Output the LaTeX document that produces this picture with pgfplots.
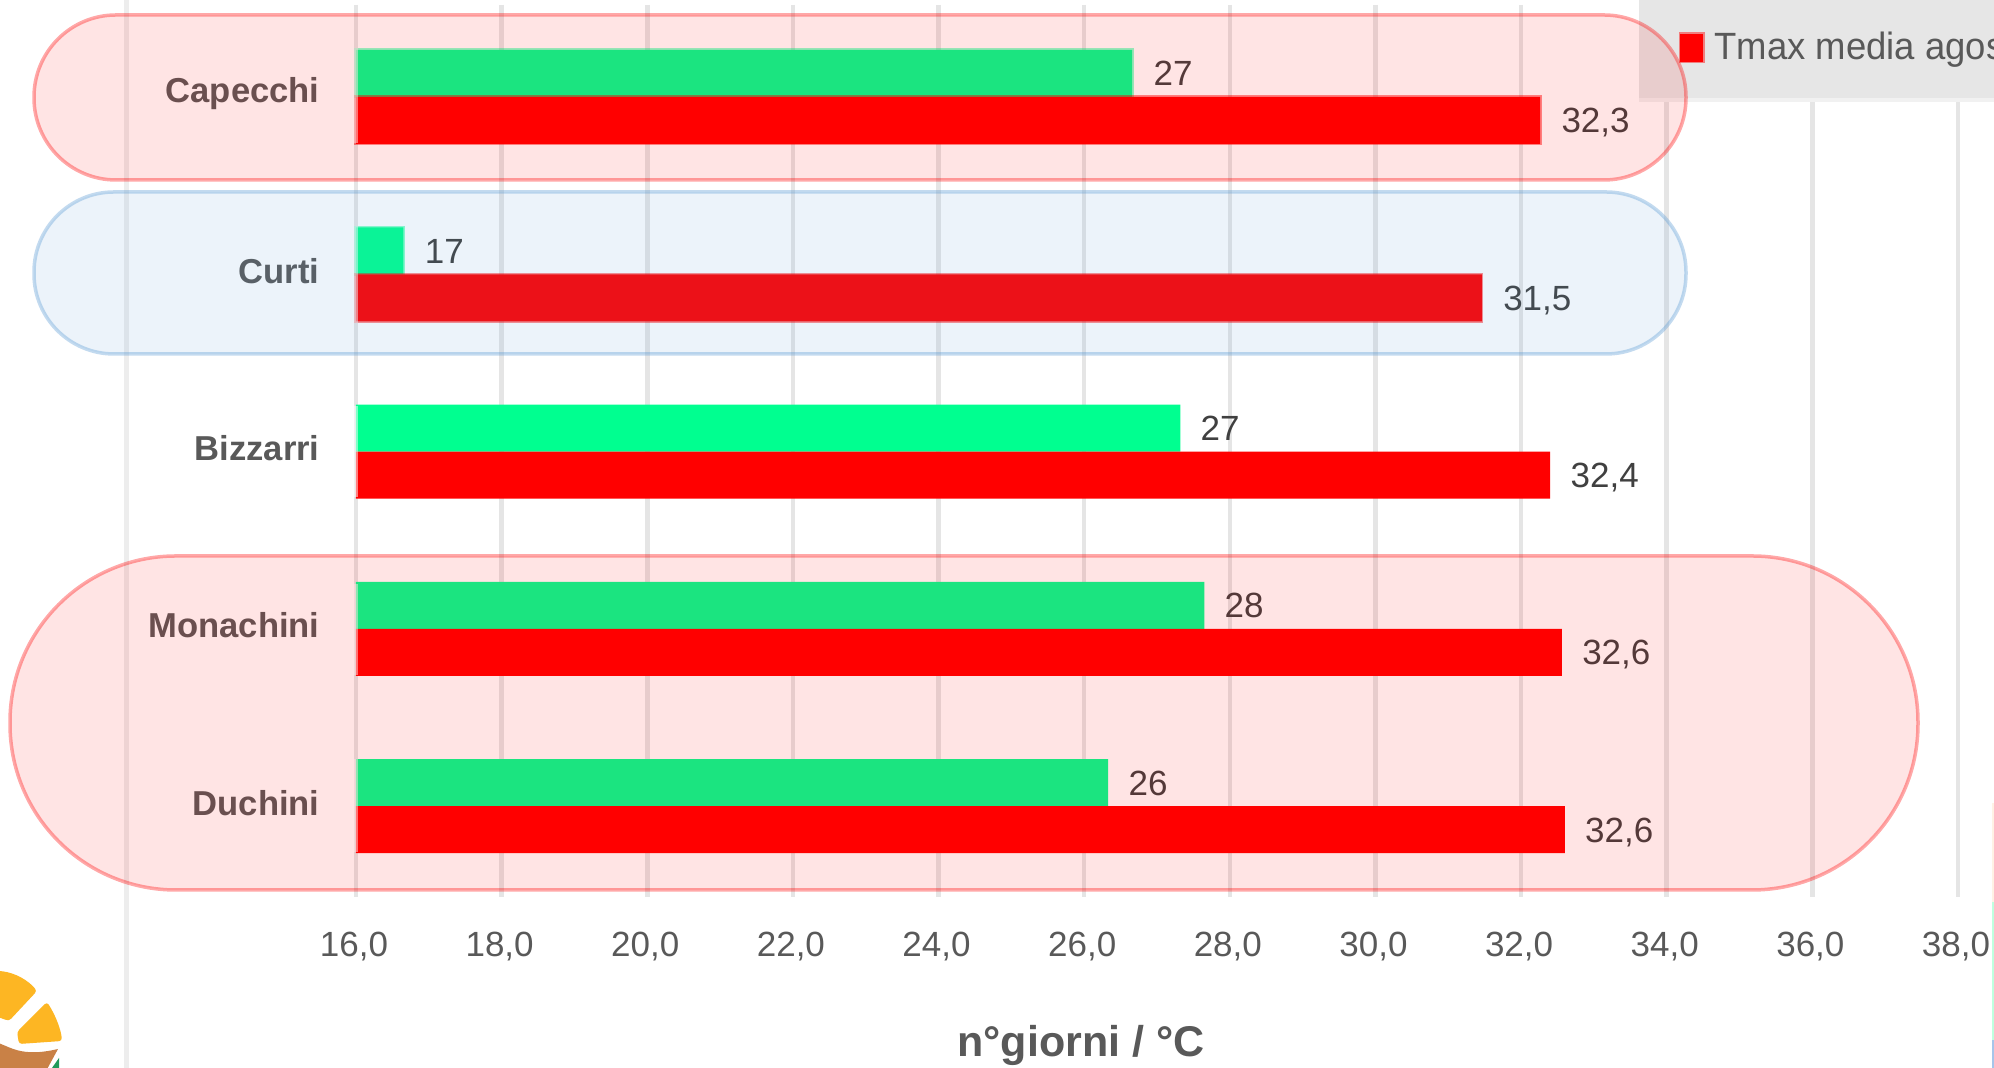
\documentclass[border=0pt]{standalone}
\usepackage{fontspec}
\setmainfont{Liberation Sans}
\usepackage{graphicx}
\usepackage{pgfplots}
\pgfplotsset{compat=1.18}
\usepackage{pgfplotstable}
\newlength{\pxu}
\setlength{\pxu}{0.5pt}
\definecolor{barred}{HTML}{FF0000}
\definecolor{bargreen}{HTML}{00FF90}
\definecolor{gridgray}{HTML}{E5E5E5}
\definecolor{labelgray}{HTML}{595959}
\definecolor{valuegray}{HTML}{404040}
\definecolor{legendgray}{HTML}{E6E6E6}
\definecolor{bandblue}{HTML}{5B9BD5}
\definecolor{logoyellow}{HTML}{FDB623}
\definecolor{logobrown}{HTML}{C98146}
\definecolor{logogreen}{HTML}{1F9A5A}
% days (rounded in the labels) and mean August maximum temperature;
% the first two rows carry an outlined bar
\pgfplotstableread{
pos days
0 26.66
1 16.65
}\daystop
\pgfplotstableread{
pos days
2 27.32
3 27.65
4 26.33
}\daysrest
\pgfplotstableread{
pos tmax
0 32.26
1 31.46
}\tmaxtop
\pgfplotstableread{
pos tmax
2 32.4
3 32.56
4 32.6
}\tmaxrest
\begin{document}
\begin{tikzpicture}[x=\pxu,y=\pxu]
\path[use as bounding box,clip] (0,0) rectangle (1994,1068);
\fill[white] (0,0) rectangle (1994,1068);
% stray gridline left of the plot area
\draw[gridgray!70,line width=5\pxu] (126,0) -- (126,1068);
\begin{axis}[
  at={(356\pxu,171\pxu)},anchor=south west,
  scale only axis,
  width=1602\pxu,height=892\pxu,
  xmin=16,xmax=38,
  ymin=-0.519,ymax=4.513,
  y dir=reverse,
  clip=false,
  axis line style={draw=none},
  major tick length=0pt,
  xtick={16,18,...,38},
  ytick={0,1,2,3,4},
  yticklabels={Capecchi,Curti,Bizzarri,Monachini,Duchini},
  xmajorgrids=true,
  ymajorgrids=false,
  grid style={gridgray,line width=4.5\pxu},
  xbar,
  bar width=47\pxu,
  /pgf/number format/assume math mode=true,
  xticklabel style={
    font=\fontsize{17.5pt}{20pt}\selectfont,text=labelgray,
    inner sep=0pt,yshift=-17.5pt,xshift=-1pt,
    /pgf/number format/.cd,use comma,fixed,fixed zerofill,precision=1},
  yticklabel style={
    font=\fontsize{17.3pt}{20pt}\selectfont\bfseries,text=labelgray,
    inner sep=0pt,xshift=-18pt,yshift=1.6pt},
  nodes near coords align={anchor=west},
  every node near coord/.append style={
    font=\fontsize{17.5pt}{20pt}\selectfont,text=valuegray,
    text height=12.5pt,text depth=0pt,
    inner sep=0pt,xshift=10pt},
  dayslabels/.style={point meta=x,nodes near coords,
    nodes near coords style={/pgf/number format/.cd,fixed,precision=0}},
  tmaxlabels/.style={point meta=x,nodes near coords,
    nodes near coords style={/pgf/number format/.cd,use comma,fixed,fixed zerofill,precision=1}},
]
\addplot[xbar,fill=bargreen,draw=bargreen,draw opacity=0.45,line width=3\pxu,
  bar shift=23.5\pxu,dayslabels] table[x=days,y=pos] {\daystop};
\addplot[xbar,fill=barred,draw=barred,draw opacity=0.45,line width=3\pxu,
  bar shift=-23.5\pxu,tmaxlabels] table[x=tmax,y=pos] {\tmaxtop};
\addplot[xbar,fill=bargreen,draw=none,
  bar shift=23.5\pxu,dayslabels] table[x=days,y=pos] {\daysrest};
\addplot[xbar,fill=barred,draw=none,
  bar shift=-23.5\pxu,tmaxlabels] table[x=tmax,y=pos] {\tmaxrest};
\end{axis}
% soft strip where the bars meet the baseline
\foreach \ytop/\ybot in {1020/925,842/745,662/571,484/393,309/216}
  \fill[white,opacity=0.5] (354,\ybot) rectangle (358,\ytop);
% axis title
\node[font=\fontsize{21.5pt}{24pt}\selectfont\bfseries,text=labelgray] at (1081,23) {n°giorni / °C};
% legend panel, running off the right edge
\fill[legendgray!55] (1639,966) rectangle (1994,970);
\fill[legendgray] (1639,970) rectangle (1994,1068);
\fill[barred,draw=barred,draw opacity=0.45,line width=3\pxu] (1680,1006) rectangle (1703,1034);
\node[anchor=base west,inner sep=0pt,font=\fontsize{19pt}{24pt}\selectfont,text=labelgray] at (1714,1008) {\scalebox{0.96}[1]{Tmax media agosto}};
% sliver of the neighbouring panel along the right edge
\fill[black!70] (1992,184) rectangle (1994,192);
\fill[orange!10] (1992,166) rectangle (1994,265);
\fill[green!50!cyan!25] (1992,28) rectangle (1994,166);
\fill[cyan!60!blue!35] (1992,0) rectangle (1994,28);
% highlight bands
\filldraw[fill=red,fill opacity=0.105,draw=red,draw opacity=0.34,line width=3.5\pxu,rounded corners=82\pxu]
  (34,888) rectangle (1686,1053);
\filldraw[fill=bandblue,fill opacity=0.115,draw=bandblue,draw opacity=0.36,line width=3.5\pxu,rounded corners=80\pxu]
  (34,714) rectangle (1686,876);
\filldraw[fill=red,fill opacity=0.105,draw=red,draw opacity=0.34,line width=3.5\pxu,rounded corners=166\pxu]
  (10,178) rectangle (1918,512);
% logo in the corner
\fill[logoyellow,rounded corners=3\pxu] (-5,97) -- (0,97) .. controls (15,95) and (28,88) .. (37,77) -- (9,47) -- (-5,52) -- cycle;
\fill[logoyellow,rounded corners=3\pxu] (47,66) .. controls (56,52) and (61,38) .. (62,27) -- (19,24) -- (17,36) -- cycle;
\fill[logobrown] (-5,26) .. controls (10,22) and (20,10) .. (58,19) -- (45,-5) -- (-5,-5) -- cycle;
\fill[logogreen] (59,10) -- (52,0) -- (59,0) -- cycle;
\end{tikzpicture}
\end{document}
